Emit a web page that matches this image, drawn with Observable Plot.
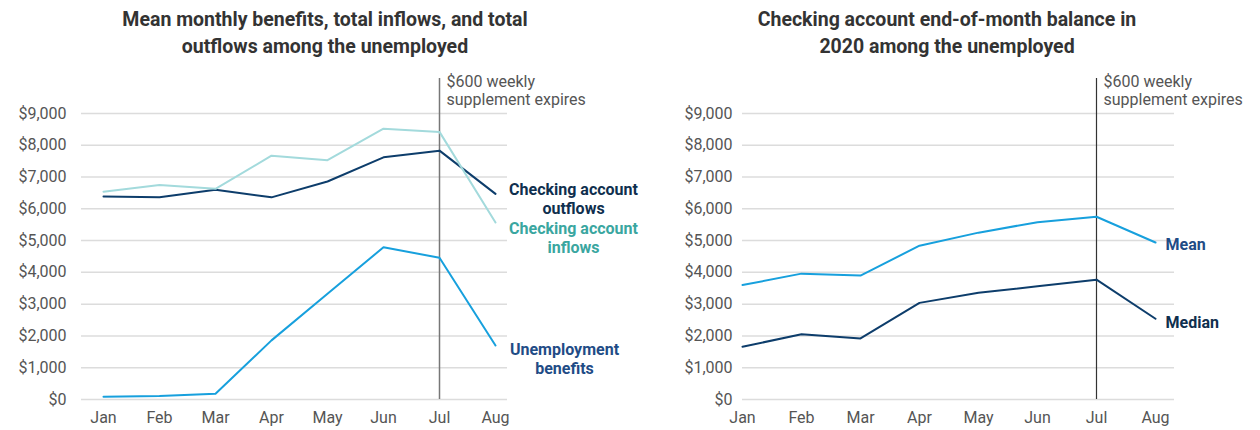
<!DOCTYPE html>
<html><head><meta charset="utf-8">
<script src="https://cdn.jsdelivr.net/npm/d3@7"></script>
<script src="https://cdn.jsdelivr.net/npm/@observablehq/plot@0.6"></script>
<style>
body{margin:0;background:#fff;font-family:Roboto,sans-serif;}
#wrap{display:flex;width:1260px;height:430px;overflow:hidden;}
.panel{position:relative;flex:none;}
.title{height:62px;box-sizing:border-box;padding-top:6px;text-align:center;font-weight:700;font-size:19.5px;line-height:27px;color:#333;}
svg{display:block;}
</style></head><body><div id="wrap"></div>
<script>
const months = ["Jan","Feb","Mar","Apr","May","Jun","Jul","Aug"];
const inflows   = [6540, 6750, 6630, 7670, 7530, 8520, 8420, 5570];
const outflows  = [6390, 6360, 6600, 6360, 6860, 7620, 7830, 6470];
const benefits  = [90, 110, 180, 1860, 3330, 4790, 4460, 1700];
const meanBal   = [3600, 3960, 3900, 4840, 5250, 5580, 5750, 4940];
const medianBal = [1660, 2050, 1920, 3040, 3360, 3560, 3770, 2540];
const yTicks = [0, 1000, 2000, 3000, 4000, 5000, 6000, 7000, 8000, 9000];
const leftTitle = ["Mean monthly benefits, total inflows, and total", "outflows among the unemployed"];
const rightTitle = ["Checking account end-of-month balance in", "2020 among the unemployed"];
const noteMonth = "Jul";
const noteText = "$600 weekly\nsupplement expires";
const leftSeries = [
  {name: "Checking account\noutflows", values: outflows, line: "#0d3d6b", label: "#0f2f4e", dx: 78, dy: 5},
  {name: "Checking account\ninflows", values: inflows, line: "#a3dadc", label: "#3aa6a0", dx: 78, dy: 15},
  {name: "Unemployment\nbenefits", values: benefits, line: "#17a0dd", label: "#1f4c86", dx: 69, dy: 13}
];
const rightSeries = [
  {name: "Mean", values: meanBal, line: "#17a0dd", label: "#1f4c86", dx: 10, dy: 2},
  {name: "Median", values: medianBal, line: "#0d3d6b", label: "#0f2f4e", dx: 10, dy: 4}
];

const fmt = d => "$" + d3.format(",")(d);
const toRows = s => months.map((m, i) => ({month: m, value: s.values[i], series: s.name}));

function panel(title, width, titlePad, opts, yPad, series, labelMarks, ruleColor, ruleWidth) {
  const div = document.createElement("div");
  div.className = "panel";
  div.style.width = width + "px";
  const t = document.createElement("div");
  t.className = "title";
  t.style.paddingRight = titlePad + "px";
  t.innerHTML = title.map(l => l.replace(/&/g, "&amp;")).join("<br>");
  div.appendChild(t);
  const marks = [
    Plot.gridY(yTicks, {stroke: "#dcdcdc", strokeOpacity: 1, strokeWidth: 1.5}),
    Plot.ruleX([noteMonth], {stroke: ruleColor, strokeWidth: ruleWidth}),
    ...series.map(s => Plot.line(toRows(s), {x: "month", y: "value", stroke: s.line, strokeWidth: 2})),
    Plot.text([{m: noteMonth, t: noteText}], {x: "m", text: "t", frameAnchor: "top", textAnchor: "start", lineAnchor: "top", dx: 7, dy: -4, fill: "#555", fontSize: 16, lineHeight: 1.1}),
    ...labelMarks
  ];
  const svg = Plot.plot({
    width, height: 368,
    marginTop: 16, marginBottom: 31,
    ...opts,
    style: {fontFamily: "Roboto, sans-serif", fontSize: "16px", color: "#555", background: "transparent"},
    y: {domain: [0, 10100], ticks: yTicks, tickFormat: fmt, tickSize: 0, tickPadding: yPad, label: null},
    marks
  });
  div.appendChild(svg);
  document.getElementById("wrap").appendChild(div);
}

panel(leftTitle, 650, 0,
  {marginLeft: 81, marginRight: 143,
   x: {type: "point", domain: months, padding: 0.2435, align: 0.643, label: null, tickSize: 0, tickPadding: 12}},
  15,
  leftSeries,
  leftSeries.map(s => Plot.text([{m: "Aug", v: s.values[7], t: s.name}], {
    x: "m", y: "v", text: "t", dx: s.dx, dy: s.dy, textAnchor: "middle", fill: s.label,
    fontWeight: "bold", fontSize: 16, lineHeight: 1.19
  })),
  "#777", 1.5);

panel(rightTitle, 610, 16,
  {marginLeft: 92, marginRight: 86,
   x: {type: "point", domain: months, padding: 0.112, align: 0, label: null, tickSize: 0, tickPadding: 12}},
  10,
  rightSeries,
  rightSeries.map(s => Plot.text([{m: "Aug", v: s.values[7], t: s.name}], {
    x: "m", y: "v", text: "t", dx: s.dx, dy: s.dy, textAnchor: "start", fill: s.label,
    fontWeight: "bold", fontSize: 16
  })),
  "#333", 1.2);
</script></body></html>
